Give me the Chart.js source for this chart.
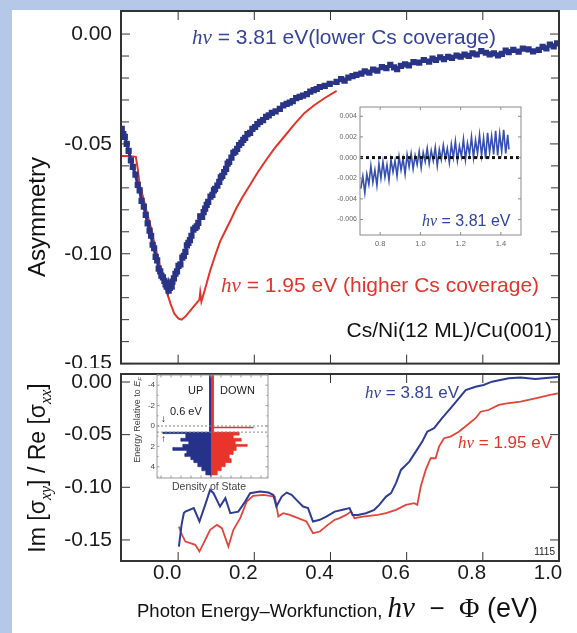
<!DOCTYPE html>
<html>
<head>
<meta charset="utf-8">
<script src="https://cdn.jsdelivr.net/npm/chart.js@4.4.1/dist/chart.umd.min.js"></script>
<style>
  body { margin: 0; background: #fff; }
  #page { position: relative; width: 577px; height: 633px; overflow: hidden; background: #fff; }
  .band { position: absolute; background: #b5c8e8; }
  canvas { position: absolute; }
  .t { position: absolute; white-space: nowrap; line-height: 1; font-family: 'Liberation Sans', Arial, sans-serif; }
  .hv { font-family: 'Liberation Serif', 'Times New Roman', serif; font-style: italic; }
  .rot { transform: translate(-50%, -50%) rotate(-90deg); }
</style>
</head>
<body>
<div id="page">
  <div class="band" style="left:0;top:0;width:577px;height:10px"></div>
  <div class="band" style="left:0;top:0;width:12px;height:633px"></div>

  <canvas id="topChart" width="577" height="368" style="left:0;top:0"></canvas>
  <canvas id="botChart" width="577" height="267" style="left:0;top:366px"></canvas>
  <canvas id="insetChart" width="200" height="150" style="left:330px;top:100px"></canvas>
  <canvas id="dosChart" width="150" height="125" style="left:125px;top:370px"></canvas>

  <div class="t rot" style="left:37px;top:217px;font-size:24px;color:#111">Asymmetry</div>
  <div class="t rot" style="left:40px;top:468px;font-size:23px;color:#111">Im [σ<sub class="hv" style="font-size:16px">xy</sub>] / Re [σ<sub class="hv" style="font-size:16px">xx</sub>]</div>

  <div class="t" style="left:192px;top:26px;font-size:21px;color:#34449a"><span class="hv">hν</span> = 3.81 eV(lower Cs coverage)</div>
  <div class="t" style="left:221px;top:274px;font-size:21px;color:#e3342b"><span class="hv">hν</span> = 1.95 eV (higher Cs coverage)</div>
  <div class="t" style="right:25px;top:319px;font-size:21px;color:#111">Cs/Ni(12 ML)/Cu(001)</div>
  <div class="t" style="left:422px;top:213px;font-size:16px;color:#34449a"><span class="hv">hν</span> = 3.81 eV</div>

  <div class="t" style="left:365px;top:384px;font-size:17px;color:#34449a"><span class="hv">hν</span> = 3.81 eV</div>
  <div class="t" style="left:458px;top:434px;font-size:17px;color:#e3342b"><span class="hv">hν</span> = 1.95 eV</div>
  <div class="t" style="right:22px;top:547px;font-size:10px;color:#222">1115</div>

  <div class="t" style="left:188px;top:385px;font-size:11px;color:#222">UP</div>
  <div class="t" style="left:220px;top:385px;font-size:11px;color:#222">DOWN</div>
  <div class="t" style="left:170px;top:406px;font-size:11px;color:#222">0.6 eV</div>
  <div class="t" style="left:161px;top:414px;font-size:10px;color:#111">↓</div>
  <div class="t" style="left:161px;top:434px;font-size:10px;color:#111">↑</div>
  <div class="t rot" style="left:138px;top:420px;font-size:9px;color:#444">Energy Relative to <i>E</i><sub style="font-size:6px"><i>F</i></sub></div>
  <div class="t" style="left:172px;top:481px;font-size:10.5px;color:#444">Density of State</div>

  <div class="t" style="left:137px;top:593px;color:#111"><span style="font-size:18.5px">Photon Energy–Workfunction, </span><span class="hv" style="font-size:29px">hν</span><span style="font-size:26px">&nbsp; − &nbsp;</span><span style="font-size:28px;font-family:'Liberation Serif',serif">Φ</span><span style="font-size:27px"> (eV)</span></div>
</div>

<script>
// ---- data ----
const xTickValues = [0, 0.2, 0.4, 0.6, 0.8, 1.0];
const topYTicks = [0, -0.05, -0.10, -0.15];
const topYMinor = [-0.01, -0.02, -0.03, -0.04, -0.06, -0.07, -0.08, -0.09, -0.11, -0.12, -0.13, -0.14];
const botYTicks = [0, -0.05, -0.10, -0.15];

// top panel, hv = 3.81 eV (squares)
const topBlueX = [-0.148,-0.144,-0.140,-0.135,-0.130,-0.124,-0.119,-0.112,-0.106,-0.101,
  -0.096,-0.090,-0.085,-0.080,-0.075,-0.071,-0.067,-0.063,-0.059,-0.055,
  -0.051,-0.047,-0.044,-0.040,-0.036,-0.033,-0.030,-0.027,-0.025,-0.022,
  -0.020,-0.017,-0.015,-0.011,-0.007,-0.003,0.001,0.006,0.011,0.015,
  0.019,0.023,0.027,0.031,0.035,0.040,0.045,0.049,0.053,0.058,
  0.063,0.067,0.071,0.075,0.079,0.085,0.090,0.094,0.097,0.103,
  0.108,0.112,0.116,0.121,0.126,0.130,0.134,0.140,0.145,0.150,
  0.155,0.160,0.166,0.171,0.176,0.182,0.189,0.195,0.202,0.208,
  0.215,0.223,0.231,0.238,0.246,0.256,0.267,0.276,0.285,0.293,
  0.301,0.310,0.319,0.328,0.338,0.347,0.356,0.364,0.372,0.385,0.398,
  0.416,0.428,0.437,0.447,0.458,0.468,0.481,0.490,0.502,0.512,
  0.523,0.535,0.547,0.557,0.567,0.575,0.585,0.596,0.606,0.618,
  0.633,0.645,0.659,0.668,0.677,0.688,0.698,0.709,0.719,0.731,
  0.742,0.752,0.763,0.773,0.784,0.796,0.808,0.818,0.829,0.840,
  0.850,0.860,0.868,0.880,0.894,0.905,0.920,0.932,0.947,0.957,
  0.967,0.976,0.986,0.995];
const topBlueY = [-0.0432,-0.0455,-0.0468,-0.0500,-0.0532,-0.0575,-0.0605,-0.0640,-0.0686,-0.0712,
  -0.0759,-0.0785,-0.0823,-0.0862,-0.0895,-0.0918,-0.0959,-0.0975,-0.1014,-0.1030,
  -0.1068,-0.1080,-0.1100,-0.1108,-0.1123,-0.1140,-0.1150,-0.1135,-0.1168,-0.1155,
  -0.1141,-0.1150,-0.1127,-0.1112,-0.1091,-0.1080,-0.1055,-0.1048,-0.1018,-0.1010,
  -0.0991,-0.0962,-0.0950,-0.0938,-0.0918,-0.0890,-0.0882,-0.0875,-0.0859,-0.0830,
  -0.0832,-0.0810,-0.0795,-0.0778,-0.0764,-0.0740,-0.0732,-0.0712,-0.0705,-0.0690,
  -0.0673,-0.0652,-0.0645,-0.0628,-0.0614,-0.0590,-0.0582,-0.0562,-0.0541,-0.0535,
  -0.0523,-0.0505,-0.0495,-0.0482,-0.0473,-0.0455,-0.0450,-0.0432,-0.0423,-0.0410,
  -0.0400,-0.0392,-0.0377,-0.0370,-0.0359,-0.0352,-0.0341,-0.0325,-0.0318,-0.0312,
  -0.0305,-0.0292,-0.0286,-0.0280,-0.0273,-0.0262,-0.0255,-0.0250,-0.0241,-0.0236,-0.0227,
  -0.0218,-0.0205,-0.0212,-0.0198,-0.0191,-0.0186,-0.0180,-0.0170,-0.0176,-0.0162,
  -0.0166,-0.0150,-0.0155,-0.0140,-0.0152,-0.0160,-0.0145,-0.0138,-0.0143,-0.0128,
  -0.0130,-0.0118,-0.0125,-0.0112,-0.0118,-0.0106,-0.0114,-0.0104,-0.0108,-0.0098,
  -0.0103,-0.0094,-0.0099,-0.0088,-0.0093,-0.0078,-0.0085,-0.0092,-0.0088,-0.0097,
  -0.0090,-0.0075,-0.0082,-0.0072,-0.0080,-0.0066,-0.0070,-0.0079,-0.0072,-0.0058,
  -0.0065,-0.0048,-0.0056,-0.0042];

// top panel, hv = 1.95 eV (line)
const topRedX = [-0.148,-0.130,-0.111,-0.106,-0.101,-0.093,-0.083,-0.072,-0.062,-0.051,
  -0.041,-0.031,-0.020,-0.010,0.001,0.009,0.019,0.032,0.045,0.056,
  0.058,0.061,0.071,0.084,0.097,0.110,0.124,0.137,0.152,0.168,
  0.189,0.210,0.231,0.254,0.280,0.306,0.332,0.358,0.385,0.416];
const topRedY = [-0.0555,-0.0555,-0.0559,-0.0614,-0.0686,-0.0736,-0.0805,-0.0877,-0.0955,-0.1032,
  -0.1105,-0.1168,-0.1227,-0.1273,-0.1295,-0.1300,-0.1286,-0.1259,-0.1232,-0.1209,
  -0.1177,-0.1218,-0.1159,-0.1077,-0.1009,-0.0945,-0.0895,-0.0850,-0.0795,-0.0745,
  -0.0686,-0.0627,-0.0573,-0.0518,-0.0464,-0.0409,-0.0359,-0.0323,-0.0291,-0.0259];

// inset of top panel
const insetXTicks = [0.8, 1.0, 1.2, 1.4];
const insetYTicks = [0.004, 0.002, 0, -0.002, -0.004, -0.006];
const insetX = [0.704,0.714,0.724,0.734,0.744,0.754,0.764,0.774,0.784,0.794,
  0.804,0.814,0.824,0.834,0.844,0.854,0.864,0.874,0.884,0.894,
  0.904,0.914,0.924,0.934,0.944,0.954,0.964,0.974,0.984,0.994,
  1.004,1.014,1.024,1.034,1.044,1.054,1.064,1.074,1.084,1.094,
  1.104,1.114,1.124,1.134,1.144,1.154,1.164,1.174,1.184,1.194,
  1.204,1.214,1.224,1.234,1.244,1.254,1.264,1.274,1.284,1.294,
  1.304,1.314,1.324,1.334,1.344,1.354,1.364,1.374,1.384,1.394,
  1.404,1.414,1.424,1.434,1.440];
const insetY = [-0.0030,-0.0018,-0.0034,-0.0016,-0.0026,-0.0008,-0.0024,-0.0012,-0.0027,-0.0006,
  -0.0020,-0.0004,-0.0019,-0.0007,-0.0022,-0.0002,-0.0014,-0.0003,-0.0018,0.0001,
  -0.0012,-0.0001,-0.0016,0.0003,-0.0009,0.0004,-0.0011,0.0002,-0.0007,0.0006,
  -0.0010,0.0005,-0.0004,0.0009,-0.0006,0.0007,-0.0003,0.0010,-0.0008,0.0008,
  -0.0002,0.0012,-0.0001,0.0009,-0.0005,0.0013,0.0000,0.0016,-0.0003,0.0011,
  0.0001,0.0018,-0.0002,0.0014,0.0003,0.0020,0.0000,0.0017,0.0004,0.0022,
  0.0002,0.0019,-0.0001,0.0024,0.0005,0.0021,0.0003,0.0026,0.0002,0.0023,
  0.0006,0.0027,0.0004,0.0022,0.0008];

// bottom panel
const botBlueX = [0.002,0.009,0.015,0.019,0.041,0.056,0.071,0.084,0.093,0.110,
  0.124,0.137,0.158,0.176,0.189,0.215,0.237,0.250,0.258,0.272,
  0.285,0.298,0.315,0.328,0.341,0.354,0.372,0.389,0.411,0.432,
  0.450,0.458,0.472,0.493,0.515,0.528,0.546,0.559,0.572,0.585,
  0.607,0.624,0.641,0.654,0.672,0.693,0.715,0.737,0.755,0.781,
  0.802,0.824,0.846,0.868,0.899,0.938,0.967,0.997];
const botBlueY = [-0.1563,-0.1357,-0.1245,-0.1231,-0.1198,-0.1325,-0.1167,-0.1025,-0.1056,-0.1183,
  -0.1103,-0.1246,-0.1231,-0.1136,-0.1056,-0.1041,-0.1050,-0.1072,-0.1183,-0.1088,
  -0.1050,-0.1072,-0.1136,-0.1183,-0.1198,-0.1325,-0.1309,-0.1278,-0.1231,-0.1214,
  -0.1198,-0.1262,-0.1262,-0.1246,-0.1214,-0.1167,-0.1088,-0.1056,-0.0961,-0.0835,
  -0.0756,-0.0661,-0.0566,-0.0472,-0.0439,-0.0344,-0.0250,-0.0155,-0.0076,-0.0045,
  -0.0028,0.0003,0.0019,0.0035,0.0043,0.0028,0.0038,0.0047];
const botRedX = [0.002,0.010,0.019,0.032,0.045,0.056,0.067,0.084,0.102,0.115,
  0.132,0.145,0.163,0.180,0.197,0.224,0.241,0.254,0.263,0.276,
  0.293,0.315,0.337,0.354,0.372,0.393,0.411,0.424,0.441,0.454,
  0.463,0.485,0.524,0.546,0.572,0.598,0.620,0.628,0.637,0.650,
  0.663,0.676,0.685,0.698,0.715,0.737,0.759,0.781,0.794,0.815,
  0.842,0.863,0.899,0.938,0.977,0.997];
const botRedY = [-0.1373,-0.1452,-0.1515,-0.1530,-0.1546,-0.1610,-0.1530,-0.1404,-0.1357,-0.1388,
  -0.1563,-0.1404,-0.1293,-0.1136,-0.1082,-0.1072,-0.1082,-0.1088,-0.1278,-0.1246,
  -0.1262,-0.1293,-0.1325,-0.1435,-0.1420,-0.1357,-0.1309,-0.1293,-0.1262,-0.1231,
  -0.1293,-0.1278,-0.1262,-0.1246,-0.1214,-0.1167,-0.1151,-0.1167,-0.0993,-0.0835,
  -0.0724,-0.0724,-0.0614,-0.0534,-0.0519,-0.0472,-0.0408,-0.0344,-0.0282,-0.0266,
  -0.0218,-0.0202,-0.0187,-0.0155,-0.0123,-0.0107];

// density-of-states inset (energy relative to E_F, density; up < 0, down > 0)
const dosYTicks = [-4, -2, 0, 2, 4];
const dosUpEnergy = [-5,-5,0.6,0.6,0.75,0.75,1.2,1.2,1.5,1.5,1.8,1.8,2.1,2.1,2.4,2.4,2.7,2.7,3.0,3.0,3.3,3.3,3.6,3.6,4.0,4.0,4.4,4.4,4.8,4.8,5.0];
const dosUpDensity = [0,-0.15,-0.15,-4.8,-4.8,-2.5,-2.5,-3.0,-3.0,-2.2,-2.2,-2.8,-2.8,-3.8,-3.8,-2.4,-2.4,-2.6,-2.6,-2.0,-2.0,-1.7,-1.7,-1.3,-1.3,-0.9,-0.9,-0.5,-0.5,-0.1,0];
const dosDownEnergy = [-5,-5,0.1,0.1,0.2,0.2,0.6,0.6,0.9,0.9,1.2,1.2,1.5,1.5,1.8,1.8,2.0,2.0,2.4,2.4,2.8,2.8,3.2,3.2,3.6,3.6,4.0,4.0,4.4,4.4,4.8,4.8,5.0];
const dosDownDensity = [0,0.25,0.25,4.2,4.2,0.25,0.25,2.8,2.8,2.2,2.2,3.0,3.0,2.4,2.4,3.6,3.6,2.5,2.5,2.2,2.2,1.8,1.8,2.0,2.0,1.4,1.4,1.0,1.0,0.6,0.6,0.1,0];

// ---- helpers ----
const NAVY = '#2a3487';
const RED = '#e3342b';
const pts = (xs, ys) => xs.map((x, i) => ({ x, y: ys[i] }));
const tickFont = { family: "'Liberation Sans', Arial, sans-serif" };

// frame around the plot area with inward ticks on all four sides
function frameTicks(cfg) {
  return {
    id: 'frameTicks',
    beforeDatasetsDraw(chart) {
      if (!cfg.fill) return;
      const a = chart.chartArea;
      chart.ctx.save();
      chart.ctx.fillStyle = cfg.fill;
      chart.ctx.fillRect(a.left, a.top, a.right - a.left, a.bottom - a.top);
      chart.ctx.restore();
    },
    afterDatasetsDraw(chart) {
      const { ctx, chartArea: a, scales } = chart;
      ctx.save();
      ctx.strokeStyle = cfg.color;
      ctx.lineWidth = cfg.tickWidth || 1;
      ctx.beginPath();
      const xt = (vals, len) => vals.forEach(v => {
        const p = scales.x.getPixelForValue(v);
        ctx.moveTo(p, a.bottom); ctx.lineTo(p, a.bottom - len);
        ctx.moveTo(p, a.top); ctx.lineTo(p, a.top + len);
      });
      const yt = (vals, len) => vals.forEach(v => {
        const p = scales.y.getPixelForValue(v);
        ctx.moveTo(a.left, p); ctx.lineTo(a.left + len, p);
        ctx.moveTo(a.right, p); ctx.lineTo(a.right - len, p);
      });
      xt(cfg.x || [], cfg.len);
      xt(cfg.xMinor || [], cfg.minorLen || cfg.len);
      yt(cfg.y || [], cfg.len);
      yt(cfg.yMinor || [], cfg.minorLen || cfg.len);
      ctx.stroke();
      ctx.lineWidth = cfg.width;
      ctx.strokeRect(a.left, a.top, a.right - a.left, a.bottom - a.top);
      ctx.restore();
    }
  };
}

function baseOptions(padding) {
  return {
    animation: false,
    responsive: false,
    devicePixelRatio: 1,
    events: [],
    layout: { padding },
    plugins: { legend: { display: false }, tooltip: { enabled: false } },
    elements: { line: { tension: 0 } }
  };
}

// ---- top panel ----
const topOpts = baseOptions({ left: 0, right: 18, top: 11, bottom: 3 });
topOpts.scales = {
  x: { type: 'linear', min: -0.15, max: 1.0, display: false },
  y: {
    type: 'linear', min: -0.15, max: 0.0105,
    grid: { display: false, drawTicks: false }, border: { display: false },
    ticks: { font: { ...tickFont, size: 21 }, color: '#1a1a1a', padding: 9, callback: v => v.toFixed(2) },
    afterBuildTicks: s => { s.ticks = topYTicks.map(v => ({ value: v })); },
    afterFit: s => { s.width = 121; s.paddingTop = 0; s.paddingBottom = 0; }
  }
};
new Chart(document.getElementById('topChart'), {
  type: 'line',
  data: {
    datasets: [
      { data: pts(topBlueX, topBlueY), borderColor: NAVY, backgroundColor: NAVY, borderWidth: 3,
        pointStyle: 'rect', pointRadius: 4.4, pointBorderWidth: 0, order: 0 },
      { data: pts(topRedX, topRedY), borderColor: RED, borderWidth: 2, pointRadius: 0, order: 1 }
    ]
  },
  options: topOpts,
  plugins: [frameTicks({ color: '#333', width: 2, len: 9, minorLen: 8,
    x: xTickValues.slice(0, 5), y: topYTicks, yMinor: topYMinor })]
});

// ---- bottom panel ----
const botOpts = baseOptions({ left: 0, right: 18, top: 8, bottom: 0 });
botOpts.scales = {
  x: {
    type: 'linear', min: -0.15, max: 1.0,
    grid: { display: false, drawTicks: false }, border: { display: false },
    ticks: { font: { ...tickFont, size: 20.5 }, color: '#1a1a1a', padding: 0, labelOffset: -11,
      maxRotation: 0, callback: v => v.toFixed(1) },
    afterBuildTicks: s => { s.ticks = xTickValues.map(v => ({ value: v })); },
    afterFit: s => { s.height = 72; s.paddingLeft = 0; s.paddingRight = 0; }
  },
  y: {
    type: 'linear', min: -0.17, max: 0.0076,
    grid: { display: false, drawTicks: false }, border: { display: false },
    ticks: { font: { ...tickFont, size: 21 }, color: '#1a1a1a', padding: 9, callback: v => v.toFixed(2) },
    afterBuildTicks: s => { s.ticks = botYTicks.map(v => ({ value: v })); },
    afterFit: s => { s.width = 121; s.paddingTop = 0; s.paddingBottom = 0; }
  }
};
new Chart(document.getElementById('botChart'), {
  type: 'line',
  data: {
    datasets: [
      { data: pts(botBlueX, botBlueY), borderColor: '#2f3c96', borderWidth: 2, pointRadius: 0, order: 0 },
      { data: pts(botRedX, botRedY), borderColor: '#e2453b', borderWidth: 1.8, pointRadius: 0, order: 1 }
    ]
  },
  options: botOpts,
  plugins: [frameTicks({ color: '#333', width: 2, len: 9, x: xTickValues.slice(0, 5), y: botYTicks })]
});

// ---- inset of the top panel ----
const insetOpts = baseOptions({ left: 0, right: 9, top: 7, bottom: 0 });
insetOpts.scales = {
  x: {
    type: 'linear', min: 0.7, max: 1.5,
    grid: { display: false, drawTicks: false }, border: { display: false },
    ticks: { font: { ...tickFont, size: 7.5 }, color: '#666', padding: 4, maxRotation: 0, callback: v => v.toFixed(1) },
    afterBuildTicks: s => { s.ticks = insetXTicks.map(v => ({ value: v })); },
    afterFit: s => { s.height = 15; s.paddingLeft = 0; s.paddingRight = 0; }
  },
  y: {
    type: 'linear', min: -0.0075, max: 0.0049,
    grid: { display: false, drawTicks: false }, border: { display: false },
    ticks: { font: { ...tickFont, size: 7 }, color: '#666', padding: 3, callback: v => v.toFixed(3) },
    afterBuildTicks: s => { s.ticks = insetYTicks.map(v => ({ value: v })); },
    afterFit: s => { s.width = 30; s.paddingTop = 0; s.paddingBottom = 0; }
  }
};
new Chart(document.getElementById('insetChart'), {
  type: 'line',
  data: {
    datasets: [
      { data: [{ x: 0.7, y: 0 }, { x: 1.5, y: 0 }], borderColor: '#111', borderWidth: 3,
        borderDash: [3, 3], pointRadius: 0, order: 0 },
      { data: pts(insetX, insetY), borderColor: '#3550b0', borderWidth: 1.6, pointRadius: 0, order: 1 }
    ]
  },
  options: insetOpts,
  plugins: [frameTicks({ color: '#8a8a8a', width: 1, len: 3, fill: '#fff', x: insetXTicks, y: insetYTicks })]
});

// ---- density of states inset ----
const dosOpts = baseOptions({ left: 0, right: 7, top: 5, bottom: 17 });
dosOpts.indexAxis = 'y';
dosOpts.scales = {
  x: { type: 'linear', min: -5.4, max: 5.7, display: false },
  y: {
    type: 'linear', min: -5, max: 5.1, reverse: true,
    grid: { display: false, drawTicks: false }, border: { display: false },
    ticks: { font: { ...tickFont, size: 8 }, color: '#444', padding: 2 },
    afterBuildTicks: s => { s.ticks = dosYTicks.map(v => ({ value: v })); },
    afterFit: s => { s.width = 32; s.paddingTop = 0; s.paddingBottom = 0; }
  }
};
new Chart(document.getElementById('dosChart'), {
  type: 'line',
  data: {
    datasets: [
      { data: [{ x: -5.4, y: 0 }, { x: 5.7, y: 0 }], borderColor: '#888', borderWidth: 1,
        borderDash: [2, 2], pointRadius: 0, order: 0 },
      { data: [{ x: -5.4, y: 0.6 }, { x: 5.7, y: 0.6 }], borderColor: '#888', borderWidth: 1,
        borderDash: [2, 2], pointRadius: 0, order: 1 },
      { data: pts(dosDownDensity, dosDownEnergy), borderColor: '#e8342a', backgroundColor: '#e8342a',
        borderWidth: 0.5, pointRadius: 0, fill: 'origin', order: 2 },
      { data: pts(dosUpDensity, dosUpEnergy), borderColor: '#26318a', backgroundColor: '#26318a',
        borderWidth: 0.5, pointRadius: 0, fill: 'origin', order: 3 }
    ]
  },
  options: dosOpts,
  plugins: [frameTicks({ color: '#999', width: 1, len: 2.5, fill: '#fff',
    x: [-5, -4, -3, -2, -1, 0, 1, 2, 3, 4, 5], y: dosYTicks, yMinor: [-5, -3, -1, 1, 3, 5], minorLen: 1.5 })]
});
</script>
</body>
</html>
